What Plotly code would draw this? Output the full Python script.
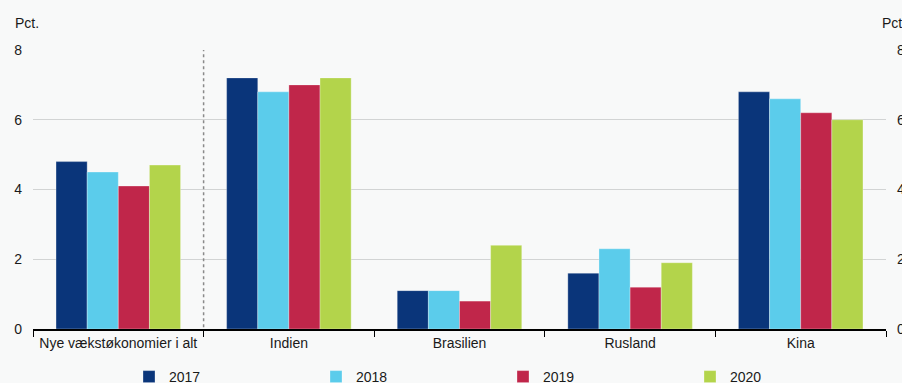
import plotly.graph_objects as go

categories = ["Nye vækstøkonomier i alt", "Indien", "Brasilien", "Rusland", "Kina"]
years = ["2017", "2018", "2019", "2020"]
v2017 = [4.8, 7.2, 1.1, 1.6, 6.8]
v2018 = [4.5, 6.8, 1.1, 2.3, 6.6]
v2019 = [4.1, 7.0, 0.8, 1.2, 6.2]
v2020 = [4.7, 7.2, 2.4, 1.9, 6.0]
y_ticks = [0, 2, 4, 6, 8]

series = [v2017, v2018, v2019, v2020]
colors = ["#0a357a", "#5bcceb", "#c0264a", "#b3d44b"]
font_family = "Liberation Sans, Arial, sans-serif"
bg = "#f8f9f9"

fig = go.Figure()
for name, vals, col in zip(years, series, colors):
    fig.add_trace(go.Bar(
        x=categories, y=vals, name=name,
        marker=dict(color=col, line=dict(color="rgba(255,255,255,0.5)", width=0.6)),
    ))

# invisible trace so the mirrored right-hand axis is drawn
fig.add_trace(go.Scatter(x=categories, y=[0] * len(categories), yaxis="y2",
                         mode="markers", marker=dict(opacity=0),
                         showlegend=False, hoverinfo="skip"))

axis_font = dict(family=font_family, size=14, color="#1a1a1a")
plot_w = 902 - 33 - 16
plot_h = 383 - 50 - 54

fig.update_layout(
    width=902, height=383,
    margin=dict(l=33, r=16, t=50, b=54, autoexpand=False),
    paper_bgcolor=bg, plot_bgcolor=bg,
    barmode="group", bargap=0.27, bargroupgap=0,
    font=axis_font,
    xaxis=dict(
        type="category", tickson="boundaries", ticks="outside", ticklen=6,
        tickcolor="#000", tickwidth=1, showline=True, linecolor="#000", linewidth=1.5,
        showgrid=False, tickfont=axis_font, range=[-0.5, 4.5], automargin=False,
    ),
    yaxis=dict(
        range=[0, 8], tickvals=y_ticks, showgrid=True, gridcolor="#d2d4d4", gridwidth=1,
        zeroline=False, showline=False, ticks="", ticklabelstandoff=10, tickfont=axis_font,
        automargin=False,
    ),
    yaxis2=dict(
        range=[0, 8], tickvals=y_ticks, overlaying="y", side="right", showgrid=False,
        zeroline=False, showline=False, ticks="", ticklabelstandoff=10, tickfont=axis_font,
        automargin=False,
    ),
    legend=dict(
        orientation="h", x=(129 - 33) / plot_w, xanchor="left",
        y=-(377 - 329) / plot_h, yanchor="middle",
        font=axis_font, entrywidth=142, entrywidthmode="pixels",
        bgcolor="rgba(0,0,0,0)", itemclick=False, itemdoubleclick=False,
    ),
    showlegend=True,
    shapes=[dict(
        type="line", xref="x", yref="y", x0=0.5, x1=0.5, y0=-0.12, y1=8,
        line=dict(color="#8a8a8a", width=1.5, dash="dot"),
    )],
    annotations=[
        dict(text="Pct.", xref="paper", yref="paper", x=-20 / plot_w, y=1 + 27 / plot_h,
             xanchor="left", yanchor="middle", showarrow=False, font=axis_font),
        dict(text="Pct.", xref="paper", yref="paper", x=1 - 6 / plot_w, y=1 + 27 / plot_h,
             xanchor="left", yanchor="middle", showarrow=False, font=axis_font),
    ],
)

fig.write_html("out.html")
